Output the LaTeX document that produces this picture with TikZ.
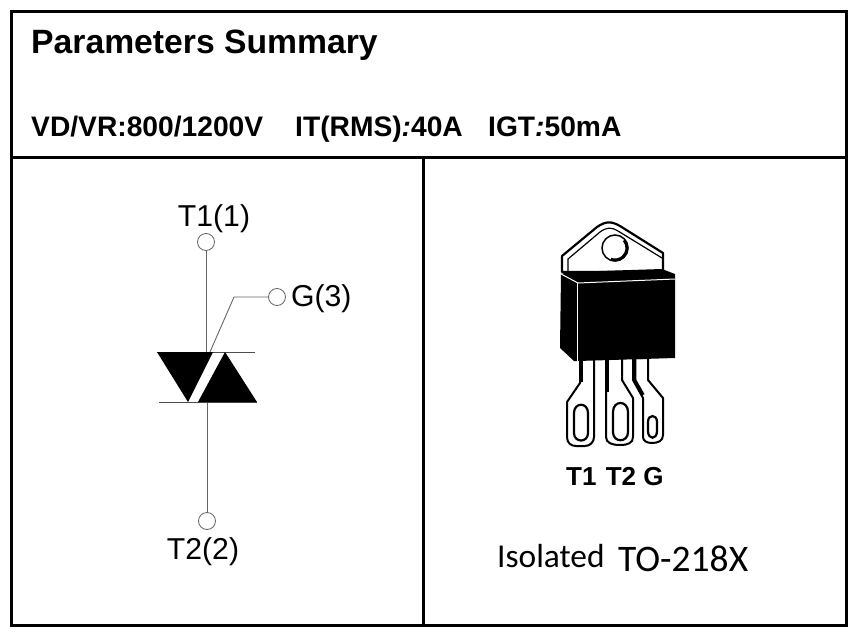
\documentclass[tikz,border=0pt]{standalone}
\usepackage{fontspec}
\setmainfont{Liberation Sans}
\newfontfamily\calibrifont{Carlito}
\usetikzlibrary{positioning}
\tikzset{
	frameline/.style={line width=3pt},
	wire/.style={line width=0.9pt, draw=black!60},
	bar/.style={line width=0.9pt, draw=black!70},
	terminal/.style={circle, draw=black!60, line width=0.8pt, minimum size=17pt, inner sep=0pt, fill=white},
	pinlabel/.style={font=\fontsize{30.2}{30}\selectfont, inner sep=0pt},
	headline/.style={font=\fontsize{28.2}{28}\selectfont\bfseries, inner sep=0pt, anchor=base west},
	leadshape/.style={fill=white, draw=black, line width=2pt, line join=round},
	leadslot/.style={fill=white, draw=black, line width=2.2pt},
	leadedge/.style={line width=3.5pt}
}

\begin{document}
\begin{tikzpicture}[x=1pt, y=-1pt]
	\useasboundingbox (0,0) rectangle (857,637);
	\fill[white] (0,0) rectangle (857,637);

	% frame
	\draw[frameline] (11,11) rectangle (846,625);
	\draw[frameline] (11,157) -- (846,157);
	\draw[frameline] (423,157) -- (423,625);

	% header
	\node[inner sep=0pt, anchor=base west, font=\fontsize{33.7}{34}\selectfont\bfseries] (title) at (31,53) {Parameters Summary};
	\node[headline] (rating) at (31,136.5) {VD/VR:800/1200V};
	\node[headline] (current) at (295,136.5) {IT(RMS)\textit{:}40A};
	\node[headline] (trigger) at (488,136.5) {IGT\textit{:}50mA};

	% triac symbol
	\node[terminal] (t1) at (206,242) {};
	\node[terminal] (g) at (277,297) {};
	\node[terminal] (t2) at (207,521) {};
	\node[pinlabel] (t1label) at (214,219) {T1(1)};
	\node[pinlabel, right=5pt of g, yshift=-2pt] (glabel) {G(3)};
	\node[pinlabel] (t2label) at (203,552) {T2(2)};
	\coordinate (topjoin) at (206,352);
	\coordinate (gatebend) at (234,297);
	\coordinate (gatejoin) at (210,352);
	\coordinate (lowjoin) at (207,402);

	\path[wire]
		(t1) edge (topjoin)
		(lowjoin) edge (t2);
	\draw[wire] (g) -- (gatebend) -- (gatejoin);
	\draw[bar] (157,352) -- (255,352);
	\draw[bar] (159,402) -- (257,402);
	\fill (157,352) -- (213,352) -- (188,402) -- cycle;
	\fill (225,352) -- (257,402) -- (198,402) -- cycle;

	% package tab
	\draw[fill=white, line width=2.2pt, line join=round] (562,272) -- (562,256) -- (597,227) .. controls (606,221) and (611,221) .. (620,226) -- (663,253) -- (663,272) -- cycle;
	\draw[line width=1.2pt] (568,272) -- (568,259) -- (600,232) .. controls (607,227) and (611,227) .. (618,231) -- (662,258);
	\draw[fill=white, line width=1.5pt] (615,248) circle (13);
	\draw[line width=3pt] (624.2,240.3) arc[start angle=-40, end angle=110, radius=12];

	% leads
	\draw[leadshape] (580,358) -- (580,383) -- (567,402) -- (567,437) .. controls (567,443) and (571,446) .. (576,446) -- (585,446) .. controls (590,446) and (594,442) .. (594,437) -- (594,358) -- cycle;
	\draw[leadslot] (574,413) .. controls (574,402) and (588,402) .. (588,413) -- (588,433) .. controls (588,443) and (574,443) .. (574,433) -- cycle;
	\draw[leadshape] (606,358) -- (606,437) .. controls (606,443) and (612,445) .. (620,445) .. controls (628,445) and (633,443) .. (633,437) -- (633,398) -- (622,380) -- (622,358) -- cycle;
	\draw[leadslot] (613,412) .. controls (613,400) and (628,400) .. (628,412) -- (628,432) .. controls (628,443) and (613,443) .. (613,432) -- cycle;
	\draw[leadshape] (633,358) -- (633,380) -- (643,398) -- (643,437) .. controls (643,441) and (647,443) .. (652,443) .. controls (658,443) and (663,441) .. (663,435) -- (663,398) -- (648,380) -- (648,358) -- cycle;
	\draw[leadslot] (648,422) .. controls (648,414) and (657,414) .. (657,422) -- (657,431) .. controls (657,440) and (648,440) .. (648,431) -- cycle;
	\draw[leadedge] (581.5,358) -- (581.5,382);
	\draw[leadedge] (607.5,358) -- (607.5,392);
	\draw[leadedge] (634.5,358) -- (634.5,380) -- (643,395);

	% package body
	\fill (561,274) -- (568,272) -- (662,269) -- (675,274) -- (675,358) -- (578,361) -- (574,361) -- (560,348) -- cycle;
	\draw[white, line width=1pt] (561,274) -- (578,283) -- (675,279);
	\draw[white, line width=1pt] (577,283) -- (577,361);

	% package labels
	\node[inner sep=0pt, anchor=base west, font=\fontsize{26}{26}\selectfont\bfseries] (pins) at (566,485) {T1\hspace{2pt} T2 G};
	\node[inner sep=0pt, anchor=base west, font=\fontsize{33.4}{33}\selectfont\calibrifont] (isolated) at (497,567.5) {Isolated};
	\node[inner sep=0pt, anchor=base west, font=\fontsize{37.5}{37}\selectfont\calibrifont] (packname) at (618,571) {TO-218X};
\end{tikzpicture}
\end{document}
